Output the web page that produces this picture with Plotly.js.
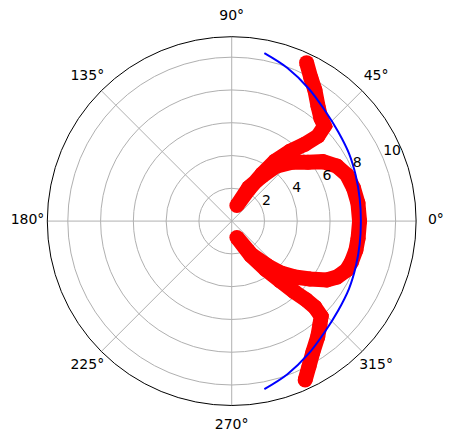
<!DOCTYPE html>
<html>
<head>
<meta charset="utf-8">
<script src="https://cdn.plot.ly/plotly-3.0.1.min.js"></script>
<style>html,body{margin:0;padding:0;background:#fff;}#chart{width:453px;height:442px;}</style>
</head>
<body>
<div id="chart"></div>
<script>
// Red thick curve (path order: upper outer branch -> origin -> inner loop -> origin -> lower outer branch)
const redTheta = [64.7, 61.0, 57.6, 53.1, 49.1, 45.7, 44.6, 46.4, 50.2, 54.2, 57.2, 61.6, 71.7,
                  63.0, 56.0, 51.1, 44.4, 37.7, 33.1, 27.6, 21.8, 15.2, 8.1, 0,
                  -7.7, -13.1, -18.8, -23.1, -28.0, -31.8, -36.5, -41.5, -46.5, -51.1, -59.2, -72.5,
                  -61.0, -55.0, -51.0, -48.5, -46.6, -46.0, -46.8, -49.6, -53.4, -58.2, -61.9, -65.2];
const redR     = [10.69, 9.97, 9.47, 8.77, 8.31, 8.10, 7.39, 6.48, 5.55, 4.51, 3.41, 2.22, 1.0,
                  2.3, 3.31, 4.31, 5.14, 5.88, 6.64, 7.24, 7.57, 7.70, 7.78, 7.80,
                  7.78, 7.78, 7.72, 7.62, 7.27, 6.82, 5.94, 5.15, 4.37, 3.52, 2.41, 1.05,
                  2.4, 3.6, 4.7, 5.75, 6.6, 7.3, 7.97, 8.3, 8.8, 9.4, 10.02, 10.68];
// Blue thin curve
const blueTheta = [-79, -70, -60, -50, -40, -30, -20, -10, 0, 10, 20, 30, 40, 50, 60, 70, 79];
const blueR     = [10.44, 9.94, 9.36, 8.83, 8.48, 8.26, 8.06, 7.93, 7.88, 7.93, 8.06, 8.26, 8.48, 8.83, 9.36, 9.94, 10.44];
// Axes
const rMax = 11.25;
const radialTicks = [2, 4, 6, 8, 10];
const radialLabelAngle = 22.5;
const angleTicks = [0, 45, 90, 135, 180, 225, 270, 315];
const angleLabels = ["0°", "45°", "90°", "135°", "180°", "225°", "270°", "315°"];
// angular labels sit on an overlay polar with the same centre and scale
const labelRMax = 13;
const angleLabelR = 12.45;

const fontSpec = {family: 'DejaVu Sans', size: 14, color: '#000'};

const traces = [
  {type: 'scatterpolar', subplot: 'polar', mode: 'lines+markers', theta: redTheta, r: redR,
   line: {color: '#ff0000', width: 15}, marker: {color: '#ff0000', size: 15},
   hoverinfo: 'skip', showlegend: false},
  {type: 'scatterpolar', subplot: 'polar', mode: 'lines', theta: blueTheta, r: blueR,
   line: {color: '#0000ff', width: 2, shape: 'spline', smoothing: 1},
   hoverinfo: 'skip', showlegend: false},
  // radial tick labels
  {type: 'scatterpolar', subplot: 'polar', mode: 'text', r: radialTicks, theta: radialTicks.map(() => radialLabelAngle),
   text: radialTicks.map(String), textposition: 'top right', textfont: fontSpec,
   cliponaxis: false, hoverinfo: 'skip', showlegend: false},
  // angular tick labels
  {type: 'scatterpolar', subplot: 'polar2', mode: 'text', r: angleTicks.map(() => angleLabelR), theta: angleTicks,
   text: angleLabels, textposition: 'middle center', textfont: fontSpec,
   cliponaxis: false, hoverinfo: 'skip', showlegend: false}
];

const hiddenRadial = {range: [0, labelRMax], visible: true, showgrid: false, showline: false, showticklabels: false, ticks: ''};
const hiddenAngular = {rotation: 0, direction: 'counterclockwise', showgrid: false, showline: false, showticklabels: false, ticks: ''};

const layout = {
  width: 453, height: 442,
  margin: {l: 0, r: 0, t: 0, b: 0},
  paper_bgcolor: '#fff',
  showlegend: false,
  font: fontSpec,
  polar: {
    domain: {x: [0.1042, 0.9188], y: [0.0826, 0.917]},
    bgcolor: '#fff',
    radialaxis: {
      range: [0, rMax], angle: radialLabelAngle,
      tickmode: 'array', tickvals: radialTicks,
      showline: false, ticks: '', showticklabels: false,
      gridcolor: '#b0b0b0', gridwidth: 1
    },
    angularaxis: {
      rotation: 0, direction: 'counterclockwise',
      tickmode: 'array', tickvals: angleTicks,
      showline: true, linecolor: '#000', linewidth: 1,
      ticks: '', showticklabels: false,
      gridcolor: '#b0b0b0', gridwidth: 1
    }
  },
  polar2: {
    domain: {x: [0.0408, 0.9821], y: [0.0176, 0.9824]},
    bgcolor: 'rgba(0,0,0,0)',
    radialaxis: hiddenRadial,
    angularaxis: hiddenAngular
  }
};

Plotly.newPlot('chart', traces, layout, {displayModeBar: false, staticPlot: true});
</script>
</body>
</html>
